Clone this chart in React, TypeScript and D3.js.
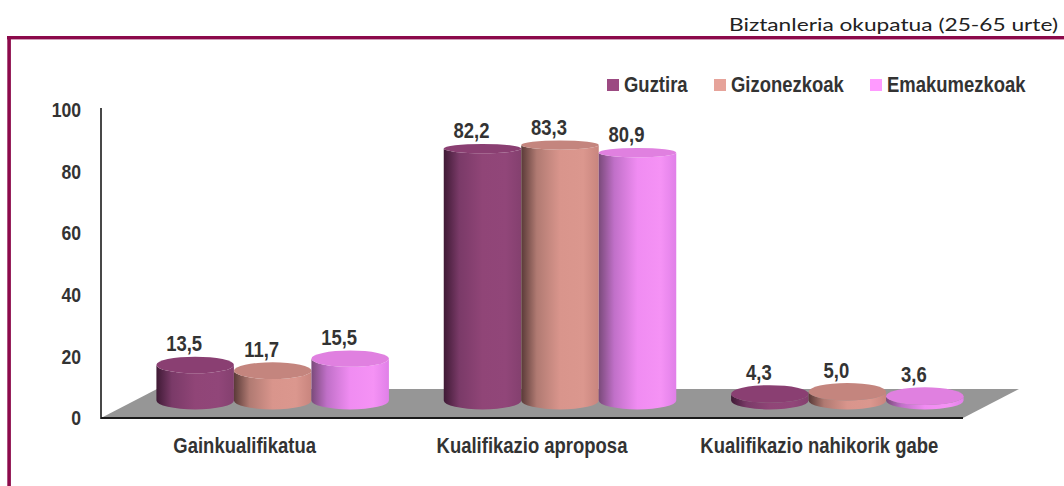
import React from "react";
import * as d3 from "d3";

const categories = ["Gainkualifikatua", "Kualifikazio aproposa", "Kualifikazio nahikorik gabe"];
const seriesNames = ["Guztira", "Gizonezkoak", "Emakumezkoak"];
const guztira = [13.5, 82.2, 4.3];
const gizonezkoak = [11.7, 83.3, 5.0];
const emakumezkoak = [15.5, 80.9, 3.6];
const yTicks = [0, 20, 40, 60, 80, 100];
const title = "Biztanleria okupatua (25-65 urte)";

const seriesValues = [guztira, gizonezkoak, emakumezkoak];
const palettes = [
  { legend: "#9c4a82", top: "#8a3f72", stops: ["#3f1a35", "#7a3a68", "#904577", "#914679", "#84406f"] },
  { legend: "#e6a39a", top: "#c4857e", stops: ["#5a3a38", "#b07a72", "#d9958c", "#db978e", "#c8857e"] },
  { legend: "#ff9aff", top: "#e080e0", stops: ["#7a4a7a", "#c070c8", "#f08cf2", "#f592f5", "#e080e8"] },
];

const W = 1064;
const H = 486;
const FONT = "'Liberation Sans', Arial, sans-serif";

// geometry
const frontLeft = 101;
const frontRight = 963;
const frontY = 418;
const depthDx = 56;
const depthDy = -29;
const halfDx = depthDx / 2;

const xBand = d3.scaleBand<string>().domain(categories).range([frontLeft, frontRight]).padding(0);
const yAxis = d3.scaleLinear().domain([0, 100]).range([frontY, 110]);
const yBar = d3.scaleLinear().domain([0, 100]).range([407.5, 92.5]);
const barBaseY = 400.5;
const groupWidth = 232.5;
const xInner = d3.scaleBand<number>().domain([0, 1, 2]).range([0, groupWidth]).padding(0);
const ryAt = (y: number) => 2.19 + 0.01674 * y;

function NText(props: { x: number; y: number; anchor?: string; size: number; sx?: number; children: React.ReactNode; fill?: string }) {
  const { x, y, anchor = "middle", size, sx = 0.84, children, fill = "#333" } = props;
  return (
    <text
      transform={`translate(${x},${y}) scale(${sx},1)`}
      textAnchor={anchor}
      fontFamily={FONT}
      fontWeight="bold"
      fontSize={size}
      fill={fill}
    >
      {children}
    </text>
  );
}

export default function App() {
  const bw = xBand.bandwidth();
  const barW = xInner.bandwidth();
  const rx = barW / 2;

  const bars: React.ReactNode[] = [];
  const labels: React.ReactNode[] = [];
  categories.forEach((cat, ci) => {
    const gx = (xBand(cat) as number) + halfDx + (bw - groupWidth) / 2;
    seriesValues.forEach((vals, si) => {
      const v = vals[ci];
      const x0 = gx + (xInner(si) as number);
      const x1 = x0 + barW;
      const cx = (x0 + x1) / 2;
      const yt = yBar(v);
      const ryt = ryAt(yt);
      const ryb = ryAt(barBaseY);
      const side = `M${x0},${yt} L${x0},${barBaseY} A${rx},${ryb} 0 0 0 ${x1},${barBaseY} L${x1},${yt} A${rx},${ryt} 0 0 1 ${x0},${yt} Z`;
      bars.push(
        <g key={`b-${ci}-${si}`}>
          <path d={side} fill={`url(#grad${si})`} />
          <ellipse cx={cx} cy={yt} rx={rx} ry={ryt} fill={palettes[si].top} />
        </g>
      );
      labels.push(
        <NText key={`l-${ci}-${si}`} x={cx - 11} y={yt - ryt - 5.5} size={22}>
          {v.toFixed(1).replace(".", ",")}
        </NText>
      );
    });
  });

  const floor = `M${frontLeft},${frontY} L${frontRight},${frontY} L${frontRight + depthDx},${frontY + depthDy} L${frontLeft + depthDx},${frontY + depthDy} Z`;

  const legendX = [607, 714, 870];

  return (
    <svg width={W} height={H} style={{ position: "absolute", left: 0, top: 0 }}>
      <defs>
        {palettes.map((p, i) => (
          <linearGradient key={i} id={`grad${i}`} x1="0" x2="1" y1="0" y2="0">
            <stop offset="0" stopColor={p.stops[0]} />
            <stop offset="0.2" stopColor={p.stops[1]} />
            <stop offset="0.5" stopColor={p.stops[2]} />
            <stop offset="0.8" stopColor={p.stops[3]} />
            <stop offset="1" stopColor={p.stops[4]} />
          </linearGradient>
        ))}
      </defs>
      <rect width={W} height={H} fill="#fff" />
      {/* title */}
      <text
        x={1058}
        y={31}
        textAnchor="end"
        fontFamily="Lato, 'Open Sans', sans-serif"
        fontWeight={400}
        fontSize={18}
        fill="#222"
        textLength={329}
        lengthAdjust="spacingAndGlyphs"
      >
        {title}
      </text>
      {/* frame */}
      <rect x={7} y={36} width={W - 7} height={3.4} fill="#8c0a4b" />
      <rect x={7.3} y={36} width={3.6} height={H - 36} fill="#8c0a4b" />

      {/* floor */}
      <path d={floor} fill="#969696" />
      <line x1={frontLeft} x2={frontRight} y1={frontY} y2={frontY} stroke="#1a1a1a" strokeWidth={2} />
      <line x1={frontLeft} x2={frontLeft} y1={108} y2={frontY + 1} stroke="#1a1a1a" strokeWidth={1.6} />

      {/* y ticks */}
      {yTicks.map((t) => (
        <NText key={t} x={81} y={yAxis(t) + 7.2} anchor="end" size={20} sx={0.88}>
          {t}
        </NText>
      ))}

      {bars}
      {labels}

      {/* category labels */}
      {categories.map((c) => (
        <NText key={c} x={(xBand(c) as number) + bw / 2} y={453} size={22}>
          {c}
        </NText>
      ))}

      {/* legend */}
      {seriesNames.map((s, i) => (
        <g key={s}>
          <rect x={legendX[i]} y={79} width={12} height={12} fill={palettes[i].legend} />
          <NText x={legendX[i] + 17} y={91.5} anchor="start" size={22}>
            {s}
          </NText>
        </g>
      ))}
    </svg>
  );
}
